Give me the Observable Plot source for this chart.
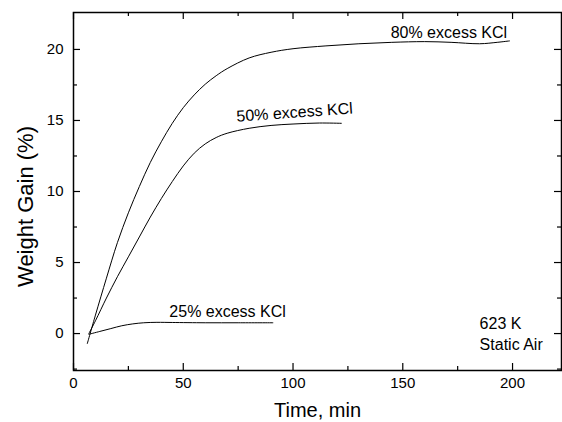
<!DOCTYPE html>
<html>
<head>
<meta charset="utf-8">
<script src="https://cdn.jsdelivr.net/npm/d3@7"></script>
<script src="https://cdn.jsdelivr.net/npm/@observablehq/plot@0.6"></script>
<style>
  html, body { margin: 0; padding: 0; background: #fff; }
</style>
</head>
<body>
<div id="chart"></div>
<script>
// Time (min) and weight gain (%) for each series
const t80 = [6.3, 10, 15, 20, 25, 30, 35, 40, 45, 50, 55, 60, 65, 70, 80, 90, 100, 115, 130, 145, 160, 172, 185, 193, 198.6];
const w80 = [-0.7, 1.3, 3.9, 6.4, 8.5, 10.35, 12.05, 13.5, 14.8, 15.9, 16.8, 17.55, 18.15, 18.65, 19.4, 19.8, 20.05, 20.25, 20.4, 20.5, 20.55, 20.5, 20.4, 20.5, 20.6];

const t50 = [7, 10, 15, 20, 25, 30, 35, 40, 45, 50, 55, 60, 65, 70, 80, 90, 100, 112, 122];
const w50 = [0, 0.9, 2.5, 4.0, 5.4, 6.8, 8.2, 9.5, 10.7, 11.8, 12.7, 13.35, 13.8, 14.1, 14.45, 14.65, 14.75, 14.82, 14.8];

const t25 = [7, 12, 17, 22, 27, 32, 38, 45, 60, 75, 90.8];
const w25 = [-0.05, 0.15, 0.35, 0.55, 0.68, 0.76, 0.79, 0.78, 0.76, 0.76, 0.76];

// Tick values
const xMajor = [0, 50, 100, 150, 200];
const xMinor = [25, 75, 125, 175];
const yMajor = [0, 5, 10, 15, 20];
const yMinor = [-2.5, 2.5, 7.5, 12.5, 17.5];

// Annotations
const labelText = ["80% excess KCl", "50% excess KCl", "25% excess KCl"];
const labelT = [171, 100.7, 70.2];
const labelW = [21.2, 15.56, 1.55];
const labelRotate = [0, -4, 0];

const noteText = ["623 K", "Static Air"];
const noteT = [185, 185];
const noteW = [0.67, -0.77];

const mk = (ts, ws) => ts.map((t, i) => ({t, w: ws[i]}));
const s80 = mk(t80, w80), s50 = mk(t50, w50), s25 = mk(t25, w25);
const labels = labelText.map((s, i) => ({s, t: labelT[i], w: labelW[i], r: labelRotate[i]}));
const notes = noteText.map((s, i) => ({s, t: noteT[i], w: noteW[i]}));

const W = 562, H = 422, mL = 73, mR = 1, mT = 12, mB = 52;
const innerH = H - mT - mB, innerW = W - mL - mR;

const chart = Plot.plot({
  width: W,
  height: H,
  marginLeft: mL,
  marginRight: mR,
  marginTop: mT,
  marginBottom: mB,
  style: {fontFamily: "'Liberation Sans', Arial, sans-serif", background: "#fff", color: "#000"},
  x: {domain: [0, 222.3]},
  y: {domain: [-2.6, 22.6]},
  marks: [
    Plot.axisX({ticks: xMajor, tickSize: 0, tickPadding: 7, fontSize: 15, label: null}),
    Plot.axisY({ticks: yMajor, tickSize: 0, tickPadding: 10, fontSize: 15, label: null}),
    // inward ticks
    Plot.tickX(xMajor, {x: d => d, insetTop: innerH - 7, stroke: "#000", strokeWidth: 1.2}),
    Plot.tickX(xMajor, {x: d => d, insetBottom: innerH - 7, stroke: "#000", strokeWidth: 1.2}),
    Plot.tickX(xMinor, {x: d => d, insetTop: innerH - 4, stroke: "#000", strokeWidth: 1.2}),
    Plot.tickX(xMinor, {x: d => d, insetBottom: innerH - 4, stroke: "#000", strokeWidth: 1.2}),
    Plot.tickY(yMajor, {y: d => d, insetRight: innerW - 7, stroke: "#000", strokeWidth: 1.2}),
    Plot.tickY(yMajor, {y: d => d, insetLeft: innerW - 7, stroke: "#000", strokeWidth: 1.2}),
    Plot.tickY(yMinor, {y: d => d, insetRight: innerW - 4, stroke: "#000", strokeWidth: 1.2}),
    Plot.tickY(yMinor, {y: d => d, insetLeft: innerW - 4, stroke: "#000", strokeWidth: 1.2}),
    Plot.frame({stroke: "#000", strokeWidth: 1.5}),
    Plot.line(s80, {x: "t", y: "w", curve: "catmull-rom", stroke: "#000", strokeWidth: 1}),
    Plot.line(s50, {x: "t", y: "w", curve: "catmull-rom", stroke: "#000", strokeWidth: 1}),
    Plot.line(s25, {x: "t", y: "w", curve: "catmull-rom", stroke: "#000", strokeWidth: 1}),
    Plot.text(labels, {x: "t", y: "w", text: "s", rotate: "r", fontSize: 16, textAnchor: "middle", lineAnchor: "middle", fill: "#000"}),
    Plot.text(notes, {x: "t", y: "w", text: "s", fontSize: 16, textAnchor: "start", lineAnchor: "middle", fill: "#000"}),
    Plot.text(["Time, min"], {frameAnchor: "bottom", dy: 40, fontSize: 20, textAnchor: "middle", lineAnchor: "middle", fill: "#000"}),
    Plot.text(["Weight Gain (%)"], {frameAnchor: "left", dx: -48, dy: 15, rotate: -90, fontSize: 22, textAnchor: "middle", lineAnchor: "middle", fill: "#000"})
  ]
});
document.getElementById("chart").appendChild(chart);
</script>
</body>
</html>
